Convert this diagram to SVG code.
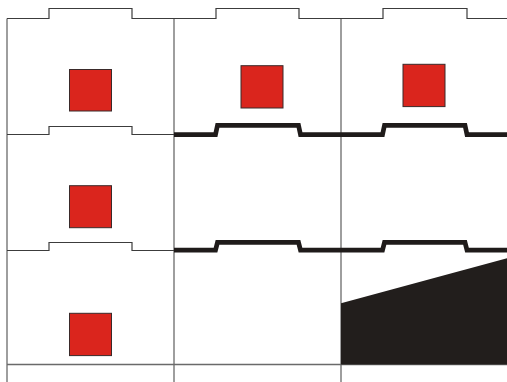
<svg xmlns="http://www.w3.org/2000/svg" width="507" height="382" viewBox="0 0 507 382">
  <style>
    .thin { fill: none; stroke: #3c3c3c; stroke-width: 1.2; }
    .grid { fill: none; stroke: #6a6a6a; stroke-width: 1.3; }
    .thick { fill: none; stroke: #1f1b1a; stroke-width: 4.7; stroke-linejoin: miter; }
    .red { fill: #da251d; stroke: #3a2a2a; stroke-width: 1; }
    .dark { fill: #221e1c; }
  </style>
  <rect width="507" height="382" fill="#ffffff"/>
  <g id="grid-lines">
    <line class="grid" x1="7" y1="18.5" x2="7" y2="382"/>
    <line class="grid" x1="174" y1="18.5" x2="174" y2="382"/>
    <line class="grid" x1="341" y1="18.5" x2="341" y2="382"/>
    <line class="grid" x1="7" y1="364.5" x2="507" y2="364.5"/>
  </g>
  <g id="profiles">
    <path class="thin" d="M7,18.5 H49 V8.5 H132 V18.5 H216 V8.5 H299 V18.5 H383 V8.5 H467 V18.5 H507"/>
    <path class="thin" d="M7,134.5 H49 V126.5 H132 V134.5 H174"/>
    <path class="thin" d="M7,250.5 H49 V242.5 H132 V250.5 H174"/>
    <path class="thick" d="M174,134.6 H215.5 L217.5,125.3 H298.5 L300.5,134.6 H382.5 L384.5,125.3 H465 L467,134.6 H507"/>
    <path class="thick" d="M174,250.2 H215.5 L217.5,242.3 H298.5 L300.5,250.2 H382.5 L384.5,242.3 H465 L467,250.2 H507"/>
  </g>
  <g id="cell-r1c1"><rect class="red" x="69.5" y="69.5" width="42" height="41.5"/></g>
  <g id="cell-r1c2"><rect class="red" x="241" y="65.7" width="42" height="42.3"/></g>
  <g id="cell-r1c3"><rect class="red" x="403" y="64.3" width="42" height="42.3"/></g>
  <g id="cell-r2c1"><rect class="red" x="69.5" y="185.7" width="42" height="42"/></g>
  <g id="cell-r3c1"><rect class="red" x="69.5" y="313.3" width="42" height="42.3"/></g>
  <g id="cell-r3c3"><polygon class="dark" points="341,303.3 507,258.3 507,364.5 341,364.5"/></g>
</svg>
